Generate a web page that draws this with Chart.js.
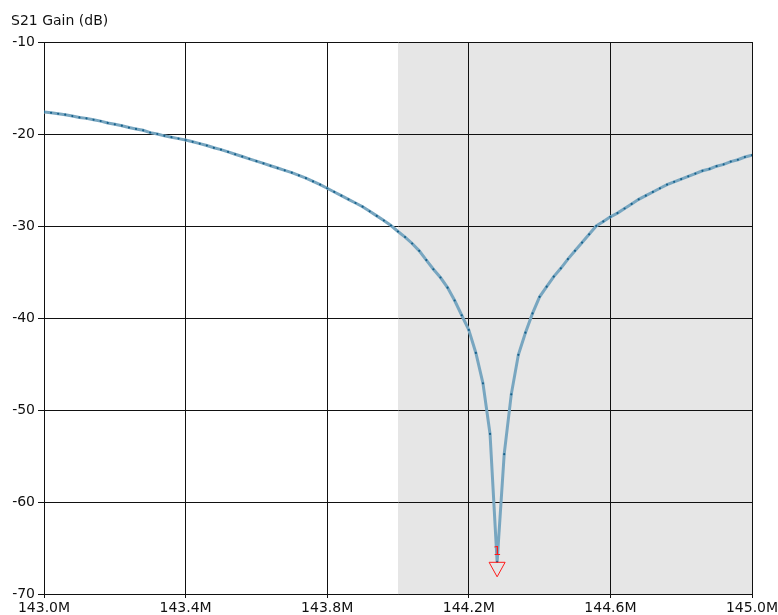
<!DOCTYPE html>
<html>
<head>
<meta charset="utf-8">
<script src="https://cdn.jsdelivr.net/npm/chart.js@4/dist/chart.umd.min.js"></script>
<style>
  html, body { margin: 0; padding: 0; background: #ffffff; }
  #wrap { width: 778px; height: 615px; position: relative; }
</style>
</head>
<body>
<div id="wrap"><canvas id="c" width="778" height="615"></canvas></div>
<script>
// Sweep frequencies (MHz)
const freqMHz = [
  143.00, 143.02, 143.04, 143.06, 143.08, 143.10, 143.12, 143.14, 143.16, 143.18,
  143.20, 143.22, 143.24, 143.26, 143.28, 143.30, 143.32, 143.34, 143.36, 143.38,
  143.40, 143.42, 143.44, 143.46, 143.48, 143.50, 143.52, 143.54, 143.56, 143.58,
  143.60, 143.62, 143.64, 143.66, 143.68, 143.70, 143.72, 143.74, 143.76, 143.78,
  143.80, 143.82, 143.84, 143.86, 143.88, 143.90, 143.92, 143.94, 143.96, 143.98,
  144.00, 144.02, 144.04, 144.06, 144.08, 144.10, 144.12, 144.14, 144.16, 144.18,
  144.20, 144.22, 144.24, 144.26, 144.28, 144.30, 144.32, 144.34, 144.36, 144.38,
  144.40, 144.42, 144.44, 144.46, 144.48, 144.50, 144.52, 144.54, 144.56, 144.58,
  144.60, 144.62, 144.64, 144.66, 144.68, 144.70, 144.72, 144.74, 144.76, 144.78,
  144.80, 144.82, 144.84, 144.86, 144.88, 144.90, 144.92, 144.94, 144.96, 144.98,
  145.00
];

// S21 gain (dB) at each sweep point
const s21Gain = [
  -17.6, -17.7, -17.8, -17.9, -18.05, -18.2, -18.3, -18.45, -18.6, -18.8,
  -18.95, -19.1, -19.3, -19.45, -19.6, -19.85, -20.0, -20.2, -20.35, -20.5,
  -20.65, -20.85, -21.05, -21.25, -21.5, -21.7, -21.95, -22.2, -22.45, -22.7,
  -22.95, -23.2, -23.45, -23.7, -23.95, -24.2, -24.5, -24.8, -25.15, -25.5,
  -25.9, -26.3, -26.7, -27.1, -27.5, -27.9, -28.4, -28.9, -29.4, -29.95,
  -30.6, -31.2, -31.9, -32.7, -33.7, -34.7, -35.6, -36.7, -38.1, -39.7,
  -41.3, -43.8, -47.1, -52.6, -66.5, -54.8, -48.3, -44.0, -41.6, -39.5,
  -37.7, -36.6, -35.5, -34.6, -33.6, -32.7, -31.8, -30.9, -30.0, -29.5,
  -29.0, -28.6, -28.1, -27.6, -27.1, -26.7, -26.3, -25.9, -25.5, -25.2,
  -24.9, -24.6, -24.3, -24.0, -23.8, -23.5, -23.3, -23.0, -22.8, -22.5,
  -22.3
];

// Axis ranges and tick spacing
const freqRange = [143.0, 145.0];
const freqTickStep = 0.4;
const gainRange = [-70, -10];
const gainTickStep = 10;

// Highlighted frequency band
const bandRange = [144.0, 145.0];

// Marker 1 label
const markerLabels = ['1'];

const FONT = '"DejaVu Sans", Verdana, sans-serif';

const points = freqMHz.map((f, i) => ({ x: f, y: s21Gain[i] }));

// Marker sits on the deepest point of the trace
let minIdx = 0;
s21Gain.forEach((v, i) => { if (v < s21Gain[minIdx]) minIdx = i; });

const bandShade = {
  id: 'bandShade',
  beforeDraw(chart) {
    const { ctx, chartArea, scales } = chart;
    const x0 = scales.x.getPixelForValue(bandRange[0]);
    const x1 = scales.x.getPixelForValue(bandRange[1]);
    ctx.save();
    ctx.fillStyle = '#e6e6e6';
    ctx.fillRect(x0, chartArea.top, x1 - x0, chartArea.bottom - chartArea.top);
    ctx.restore();
  }
};

const headerText = {
  id: 'headerText',
  afterDraw(chart) {
    const ctx = chart.ctx;
    ctx.save();
    ctx.font = '14px ' + FONT;
    ctx.fillStyle = '#111';
    ctx.textAlign = 'left';
    ctx.textBaseline = 'alphabetic';
    ctx.fillText('S21 Gain (dB)', 11, 25);
    ctx.restore();
  }
};

const minMarker = {
  id: 'minMarker',
  afterDatasetsDraw(chart) {
    const { ctx, scales } = chart;
    const px = scales.x.getPixelForValue(freqMHz[minIdx]);
    const py = scales.y.getPixelForValue(s21Gain[minIdx]);
    ctx.save();
    ctx.strokeStyle = '#ff1a1a';
    ctx.lineWidth = 1;
    ctx.beginPath();
    ctx.moveTo(px - 8, py + 0.5);
    ctx.lineTo(px + 8, py + 0.5);
    ctx.lineTo(px, py + 15);
    ctx.closePath();
    ctx.stroke();
    ctx.fillStyle = '#ff1a1a';
    ctx.font = '13px ' + FONT;
    ctx.textAlign = 'center';
    ctx.textBaseline = 'middle';
    ctx.fillText(markerLabels[0], px, py - 10);
    ctx.restore();
  }
};

new Chart(document.getElementById('c'), {
  type: 'line',
  data: {
    datasets: [{
      data: points,
      borderColor: '#78a6c0',
      borderWidth: 3,
      pointRadius: 1.1,
      pointBorderWidth: 0,
      pointBackgroundColor: '#16608a',
      tension: 0,
      fill: false
    }]
  },
  options: {
    responsive: false,
    animation: false,
    devicePixelRatio: 1,
    layout: { padding: { left: 0, top: 42, right: 26, bottom: 0 } },
    plugins: { legend: { display: false }, tooltip: { enabled: false }, title: { display: false } },
    scales: {
      x: {
        type: 'linear',
        min: freqRange[0],
        max: freqRange[1],
        afterFit(scale) {
          scale.height = 21;
          scale.paddingLeft = 0;
          scale.paddingRight = 0;
        },
        grid: { color: '#111', lineWidth: 1, tickLength: 4, drawTicks: true },
        border: { color: '#111', width: 1 },
        ticks: {
          stepSize: freqTickStep,
          padding: 2,
          color: '#111',
          maxRotation: 0,
          autoSkip: false,
          font: { family: FONT, size: 14 },
          callback: (v) => Number(v).toFixed(1) + 'M'
        }
      },
      y: {
        min: gainRange[0],
        max: gainRange[1],
        afterFit(scale) {
          scale.width = 44;
          scale.paddingTop = 0;
          scale.paddingBottom = 0;
        },
        grid: { color: '#111', lineWidth: 1, tickLength: 6 },
        border: { color: '#111', width: 1 },
        ticks: {
          stepSize: gainTickStep,
          padding: 3,
          color: '#111',
          font: { family: FONT, size: 14 },
          callback: (v) => String(v)
        }
      }
    }
  },
  plugins: [bandShade, minMarker, headerText]
});
</script>
</body>
</html>
